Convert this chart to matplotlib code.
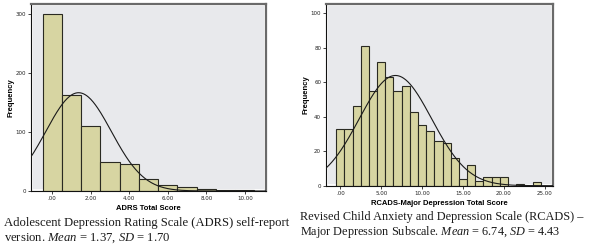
import numpy as np
import matplotlib
matplotlib.use('Agg')
import matplotlib.pyplot as plt
from matplotlib.patches import Rectangle

plt.rcParams['mathtext.fontset'] = 'custom'
plt.rcParams['mathtext.rm'] = 'Liberation Serif'
plt.rcParams['mathtext.it'] = 'Liberation Serif:italic'

# ADRS total score histogram (bins of width 1 centred on integers)
adrs_scores = list(range(0, 11))
adrs_counts = [300, 162, 110, 49, 46, 20, 11, 6, 3, 2, 1]
adrs_mean, adrs_sd = 1.37, 1.70
adrs_xticks = [0, 2, 4, 6, 8, 10]
adrs_xticklabels = ['.00', '2.00', '4.00', '6.00', '8.00', '10.00']
adrs_yticks = [0, 100, 200, 300]

# RCADS major depression total score histogram
rcads_scores = list(range(0, 25))
rcads_counts = [33, 33, 46, 81, 55, 72, 63, 55, 58, 43, 35, 32, 26, 25,
                16, 4, 12, 3, 5, 5, 5, 0, 1, 0, 2]
rcads_mean, rcads_sd = 6.74, 4.43
rcads_xticks = [0, 5, 10, 15, 20, 25]
rcads_xticklabels = ['.00', '5.00', '10.00', '15.00', '20.00', '25.00']
rcads_yticks = [0, 20, 40, 60, 80, 100]

BAR = '#d7d5a2'
BG = '#e8e9ec'


def spss_hist(ax, scores, counts, mean, sd, xlim, ylim, xticks, xticklabels,
              yticks, xlabel):
    ax.set_facecolor(BG)
    ax.bar(scores, counts, width=1.0, color=BAR, edgecolor='#2a2a22',
           linewidth=0.8, zorder=2)
    n = sum(counts)
    xs = np.linspace(xlim[0], xlim[1], 300)
    ys = n / (sd * np.sqrt(2 * np.pi)) * np.exp(-0.5 * ((xs - mean) / sd) ** 2)
    ax.plot(xs, ys, color='#1a1a1a', linewidth=0.8, zorder=3)
    ax.set_xlim(*xlim)
    ax.set_ylim(*ylim)
    ax.set_xticks(xticks)
    ax.set_xticklabels(xticklabels)
    ax.set_yticks(yticks)
    ax.tick_params(labelsize=4, length=2, width=0.6, pad=1.5, colors='#222222')
    ax.set_xlabel(xlabel, fontsize=5.5, fontweight='bold', labelpad=3,
                  family='Liberation Sans')
    ax.set_ylabel('Frequency', fontsize=5.5, fontweight='bold', labelpad=1,
                  family='Liberation Sans')
    for s in ['left', 'bottom']:
        ax.spines[s].set_color('#111111')
        ax.spines[s].set_linewidth(0.8)
    for s in ['top', 'right']:
        ax.spines[s].set_color('#6a6a6a')
        ax.spines[s].set_linewidth(1.6)
    # thin white inner margin like SPSS
    ax.add_patch(Rectangle((0.006, 0.006), 0.988, 0.988, transform=ax.transAxes,
                           fill=False, edgecolor='white', linewidth=1.2,
                           zorder=1))


fig = plt.figure(figsize=(5.89, 2.52), dpi=100)

ax1 = fig.add_axes([31 / 589, 61 / 252, 235 / 589, 187 / 252])
spss_hist(ax1, adrs_scores, adrs_counts, adrs_mean, adrs_sd, (-1.1, 11.1),
          (0, 317), adrs_xticks, adrs_xticklabels, adrs_yticks,
          'ADRS Total Score')

ax2 = fig.add_axes([326 / 589, 66.3 / 252, 227 / 589, 181.7 / 252])
spss_hist(ax2, rcads_scores, rcads_counts, rcads_mean, rcads_sd, (-1.75, 26.0),
          (0, 105.4), rcads_xticks, rcads_xticklabels, rcads_yticks,
          'RCADS-Major Depression Total Score')

cap = dict(family='Liberation Serif', color='#1a1a1a',
           va='baseline', ha='left')
fig.text(4 / 589, 1 - 226 / 252,
         'Adolescent Depression Rating Scale (ADRS) self-report',
         fontsize=9.1, **cap)
fig.text(4 / 589, 1 - 241 / 252,
         r'version. $Mean$ = 1.37, $SD$ = 1.70', fontsize=9.1, **cap)
fig.text(300 / 589, 1 - 220 / 252,
         'Revised Child Anxiety and Depression Scale (RCADS) \u2013',
         fontsize=8.8, **cap)
fig.text(300 / 589, 1 - 235 / 252,
         r'Major Depression Subscale. $Mean$ = 6.74, $SD$ = 4.43',
         fontsize=8.8, **cap)

fig.savefig('out.png', dpi=100)
